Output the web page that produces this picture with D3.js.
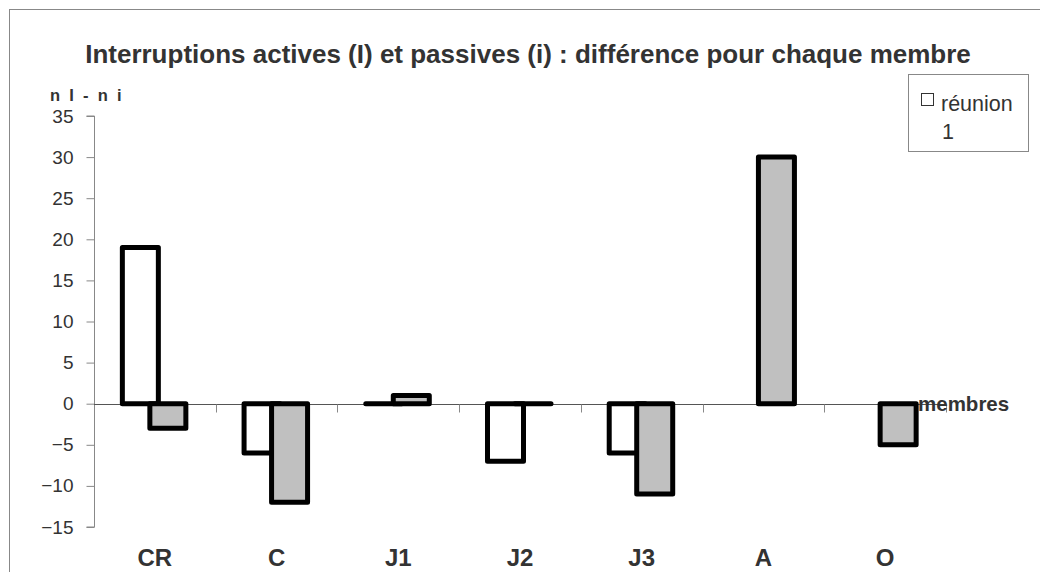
<!DOCTYPE html>
<html>
<head>
<meta charset="utf-8">
<script src="https://cdn.jsdelivr.net/npm/d3@7"></script>
<style>
  html, body { margin: 0; padding: 0; background: #fff; }
  svg { display: block; font-family: "Liberation Sans", Arial, sans-serif; }
</style>
</head>
<body>
<svg id="chart" width="1040" height="572"></svg>
<script>
// Members of the group (x categories)
const members = ["CR", "C", "J1", "J2", "J3", "A", "O"];
// n I - n i, first series (white bars); null = no bar
const seriesWhite = [19, -6, 0, -7, -6, null, null];
// n I - n i, second series (grey bars)
const seriesGrey = [-3, -12, 1, 0, -11, 30, -5];
// Y tick values
const yTicks = [35, 30, 25, 20, 15, 10, 5, 0, -5, -10, -15];

const svg = d3.select("#chart");
const textColor = "#333";

// outer frame
svg.append("rect")
  .attr("x", 9.5).attr("y", 9.5)
  .attr("width", 1100).attr("height", 700)
  .attr("fill", "#fff").attr("stroke", "#888").attr("stroke-width", 1);

const x = d3.scaleBand().domain(members).range([94, 946]).padding(0);
const y = d3.scaleLinear().domain([-15, 35]).range([527, 116]);

// title
svg.append("text")
  .attr("x", 528).attr("y", 63)
  .attr("text-anchor", "middle")
  .attr("font-size", 26).attr("font-weight", "bold")
  .attr("fill", textColor)
  .text("Interruptions actives (I) et passives (i) : différence pour chaque membre");

// y axis title
svg.append("text")
  .attr("x", 50).attr("y", 101)
  .attr("font-size", 16.5).attr("font-weight", "bold")
  .attr("letter-spacing", 2.3)
  .attr("fill", textColor)
  .text("n I - n i");

// y axis
const yAxis = d3.axisLeft(y).tickValues(yTicks).tickSize(8).tickPadding(13).tickFormat(d3.format("d"));
const gy = svg.append("g").attr("transform", "translate(94.5,0)").call(yAxis);
gy.select(".domain").attr("stroke", "#888").attr("d", `M-8,${y(35)}H0V${y(-15)}H-8`);
gy.selectAll(".tick line").attr("stroke", "#888");
gy.selectAll(".tick text")
  .attr("font-family", "Liberation Sans, Arial, sans-serif")
  .attr("font-size", 19).attr("fill", textColor);

// horizontal zero axis with category separators
const gx = svg.append("g").attr("transform", `translate(0,${Math.round(y(0)) + 0.5})`);
gx.append("line").attr("x1", 94).attr("x2", 946).attr("stroke", "#555").attr("stroke-width", 1);
const bounds = members.map(m => x(m) + x.bandwidth());
gx.selectAll("line.sep").data(bounds).join("line")
  .attr("class", "sep")
  .attr("x1", d => Math.round(d) + 0.5).attr("x2", d => Math.round(d) + 0.5)
  .attr("y1", 0).attr("y2", 8)
  .attr("stroke", "#888");

// category labels
svg.selectAll("text.cat").data(members).join("text")
  .attr("class", "cat")
  .attr("x", d => x(d) + x.bandwidth() / 2)
  .attr("y", 566)
  .attr("text-anchor", "middle")
  .attr("font-size", 24).attr("font-weight", "bold")
  .attr("fill", textColor)
  .text(d => d);

// bars (drawn as paths so zero-height bars still show their outline)
const barW = 36;
function drawBars(values, offset, fill) {
  const data = members.map((m, i) => ({ m, v: values[i] })).filter(d => d.v !== null);
  svg.append("g").selectAll("path").data(data).join("path")
    .attr("d", d => {
      const x0 = x(d.m) + x.bandwidth() / 2 + offset - barW / 2;
      const y0 = y(Math.max(0, d.v));
      const h = Math.abs(y(d.v) - y(0));
      return `M${x0},${y0}h${barW}v${h}h${-barW}Z`;
    })
    .attr("fill", fill)
    .attr("stroke", "#000")
    .attr("stroke-width", 5)
    .attr("stroke-linejoin", "round")
    .attr("stroke-linecap", "round");
}
drawBars(seriesWhite, -14.5, "#fff");
drawBars(seriesGrey, 13, "#c0c0c0");

// x axis title
svg.append("text")
  .attr("x", 918).attr("y", 411)
  .attr("font-size", 20.5).attr("font-weight", "bold")
  .attr("fill", textColor)
  .text("membres");

// legend
const lg = svg.append("g");
lg.append("rect")
  .attr("x", 908.5).attr("y", 74.5).attr("width", 120).attr("height", 77)
  .attr("fill", "#fff").attr("stroke", "#888");
lg.append("rect")
  .attr("x", 921.5).attr("y", 93.5).attr("width", 12).attr("height", 12)
  .attr("fill", "#fff").attr("stroke", "#333").attr("stroke-width", 1);
lg.append("text")
  .attr("x", 941).attr("y", 111)
  .attr("font-size", 21.5).attr("fill", textColor)
  .text("réunion");
lg.append("text")
  .attr("x", 942).attr("y", 139)
  .attr("font-size", 21.5).attr("fill", textColor)
  .text("1");
</script>
</body>
</html>
